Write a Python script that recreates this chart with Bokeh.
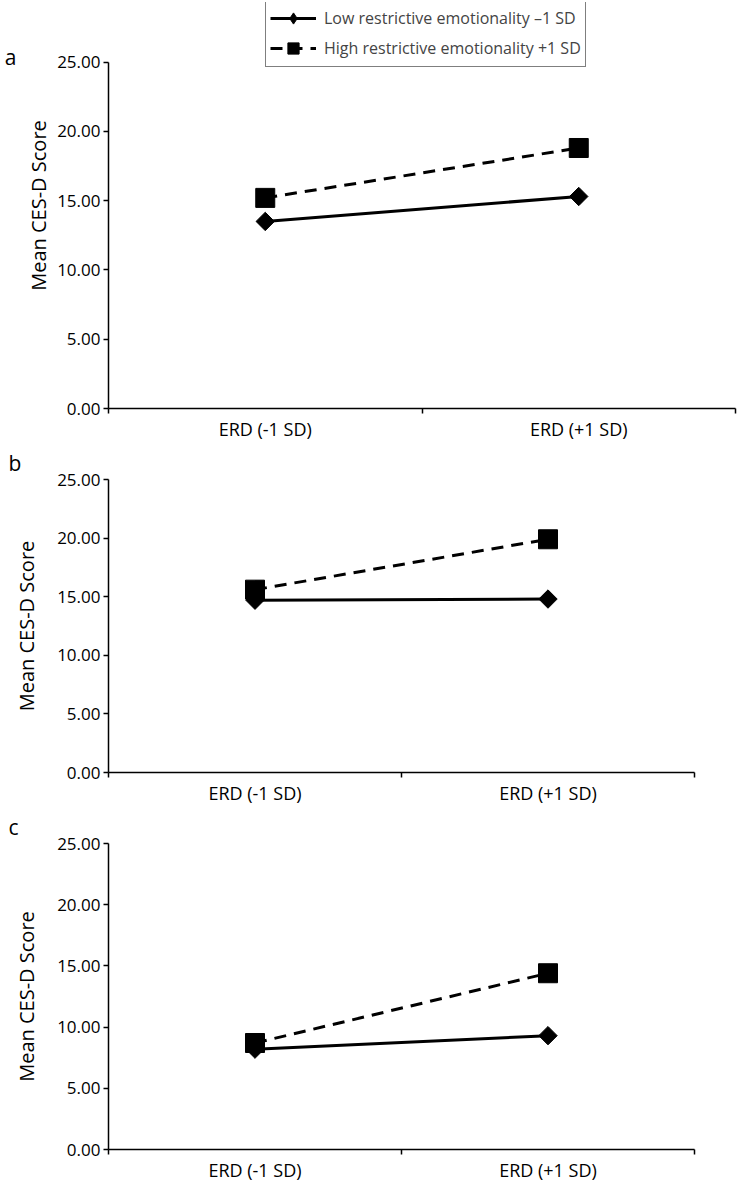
import math
from bokeh.plotting import figure
from bokeh.layouts import column
from bokeh.models import (Range1d, FixedTicker, NumeralTickFormatter, Legend, LegendItem,
                          Title, LinearAxis)
from bokeh.embed import file_html
from bokeh.resources import INLINE

categories = ["ERD (-1 SD)", "ERD (+1 SD)"]
y_ticks = [0, 5, 10, 15, 20, 25]
series_names = ["Low restrictive emotionality \u20131 SD", "High restrictive emotionality +1 SD"]

low_a = [13.5, 15.3]
high_a = [15.2, 18.8]
low_b = [14.7, 14.8]
high_b = [15.6, 19.9]
low_c = [8.2, 9.3]
high_c = [8.7, 14.4]

FONT = "Open Sans"
xpos = [i + 0.5 for i in range(len(categories))]


def make_panel(low, high, frame_w, frame_h, border_top, y_end, label_standoff):
    p = figure(frame_width=frame_w, frame_height=frame_h, output_backend="svg",
               toolbar_location=None,
               x_range=Range1d(0, 2), y_range=Range1d(0, y_end),
               min_border_left=108, min_border_right=2,
               min_border_top=border_top, min_border_bottom=34)
    p.outline_line_color = None
    p.xgrid.visible = False
    p.ygrid.visible = False
    p.background_fill_color = "white"
    p.border_fill_color = "white"

    # x axis
    xa = p.xaxis[0]
    xa.ticker = FixedTicker(ticks=xpos, minor_ticks=[0, 1, 2])
    xa.major_label_overrides = {x: c for x, c in zip(xpos, categories)}
    xa.major_tick_out = 0
    xa.major_tick_in = 0
    xa.minor_tick_out = 5
    xa.minor_tick_in = 0
    xa.minor_tick_line_color = "black"
    xa.minor_tick_line_width = 1.5
    xa.axis_line_width = 1.5
    xa.axis_line_color = "black"
    xa.major_label_text_font = FONT
    xa.major_label_text_font_size = "18px"
    xa.major_label_text_color = "black"
    xa.major_label_standoff = 3

    # y axis
    ya = p.yaxis[0]
    ya.ticker = FixedTicker(ticks=y_ticks, minor_ticks=[])
    ya.bounds = (y_ticks[0], y_ticks[-1])
    ya.formatter = NumeralTickFormatter(format="0.00")
    ya.major_tick_out = 5
    ya.major_tick_in = 0
    ya.major_tick_line_width = 1.5
    ya.axis_line_width = 1.5
    ya.axis_line_color = "black"
    ya.major_label_text_font = FONT
    ya.major_label_text_font_size = "17px"
    ya.major_label_text_color = "black"
    ya.major_label_standoff = 3
    ya.axis_label = "Mean CES-D Score"
    ya.axis_label_text_font = FONT
    ya.axis_label_text_font_size = "20px"
    ya.axis_label_text_font_style = "normal"
    ya.axis_label_text_color = "black"
    ya.axis_label_standoff = label_standoff

    l1 = p.line(xpos, low, line_color="black", line_width=3)
    d1 = p.scatter(xpos, low, marker="diamond", size=13, fill_color="black", line_color="black")
    p.scatter(xpos, low, marker="square", angle=math.pi / 4, size=13,
              fill_color="black", line_color="black")
    l2 = p.line(xpos, high, line_color="black", line_width=3, line_dash="12 8")
    s2 = p.scatter(xpos, high, marker="square", size=19, fill_color="black", line_color="black")
    return p, l1, d1, l2, s2


def add_title_letter(p, letter):
    p.add_layout(Title(text=letter, align="left", offset=-100, text_font=FONT,
                       text_font_size="21px", text_font_style="normal",
                       text_color="black", standoff=6), "above")


# panel a: frame extends above 25 to hold the legend
pa, l1, d1, l2, s2 = make_panel(low_a, high_a, 627, 406, 2, 29.3, 2)
lg = Legend(items=[LegendItem(label=series_names[0], renderers=[l1, d1]),
                   LegendItem(label=series_names[1], renderers=[l2, s2])],
            location=(157, 341), orientation="vertical",
            border_line_color="black", border_line_width=1.5,
            label_text_font=FONT, label_text_font_size="16px",
            glyph_width=46, glyph_height=28, label_height=28,
            spacing=2, padding=4, margin=0, label_standoff=8,
            background_fill_alpha=1)
pa.add_layout(lg, "center")
letter_axis = LinearAxis(ticker=FixedTicker(ticks=[25.4], minor_ticks=[]),
                         major_label_overrides={25.4: "a"},
                         axis_line_color=None, major_tick_line_color=None,
                         minor_tick_line_color=None, major_label_standoff=0,
                         major_label_text_font=FONT, major_label_text_font_size="21px",
                         major_label_text_color="black")
pa.add_layout(letter_axis, "left")

pb, *_ = make_panel(low_b, high_b, 586, 293, 0, 25, 14)
add_title_letter(pb, "b")
pc, *_ = make_panel(low_c, high_c, 586, 306, 0, 25, 14)
add_title_letter(pc, "c")

layout = column(pa, pb, pc, spacing=0)
open("out.html", "w").write(file_html(layout, INLINE))
